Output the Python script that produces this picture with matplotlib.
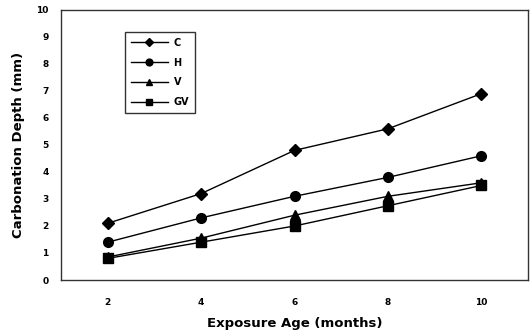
import matplotlib
matplotlib.use("Agg")
import matplotlib.pyplot as plt

categories = ["2", "4", "6", "8", "10"]
C = [2.1, 3.2, 4.8, 5.6, 6.9]
H = [1.4, 2.3, 3.1, 3.8, 4.6]
V = [0.85, 1.55, 2.4, 3.1, 3.6]
GV = [0.8, 1.4, 2.0, 2.75, 3.5]
yticks = list(range(0, 11))

plt.rcParams['font.family'] = ['DejaVu Sans']
fig = plt.figure(figsize=(5.32, 3.34), dpi=100)
ax = fig.add_axes([61/532, 1-280/334, (528-61)/532, (280-10)/334])
x = list(range(len(categories)))
ax.plot(x, C, color='black', lw=1, marker='D', ms=6, label='C')
ax.plot(x, H, color='black', lw=1, marker='o', ms=7, label='H')
ax.plot(x, V, color='black', lw=1, marker='^', ms=7, label='V')
ax.plot(x, GV, color='black', lw=1, marker='s', ms=7, label='GV')
ax.set_xlim(-0.5, len(categories)-0.5)
ax.set_ylim(0, 10)
ax.set_xticks(x)
ax.set_xticklabels(categories, fontsize=6.5, fontweight='bold')
ax.set_yticks(yticks)
ax.set_yticklabels([str(t) for t in yticks], fontsize=6.5, fontweight='bold')
ax.tick_params(length=0)
ax.tick_params(axis='y', pad=9)
ax.tick_params(axis='x', pad=13)
for s in ax.spines.values():
    s.set_linewidth(1)
    s.set_color('#333333')
ax.set_xlabel('Exposure Age (months)', fontsize=9.5, fontweight='bold', labelpad=7)
ax.set_ylabel('Carbonation Depth (mm)', fontsize=9.5, fontweight='bold', labelpad=8)
leg = ax.legend(loc='upper left', bbox_to_anchor=((125-61)/467, 1 - 22/270),
                borderaxespad=0,
                prop={'weight': 'bold', 'size': 7}, frameon=True, fancybox=False,
                edgecolor='black', handlelength=3.8, markerscale=0.7, borderpad=0.6,
                labelspacing=1.0, handletextpad=0.6)
leg.get_frame().set_linewidth(1)
fig.savefig('out.png', dpi=100, facecolor='white')
